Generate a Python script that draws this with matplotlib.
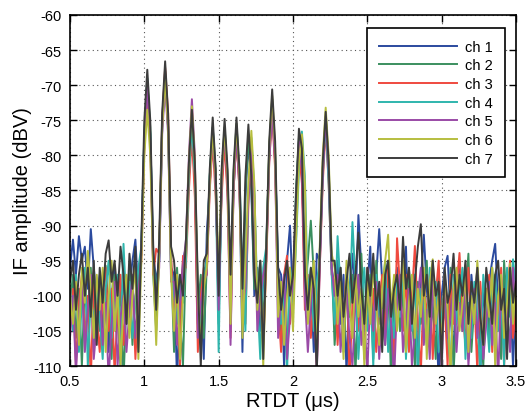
import matplotlib

matplotlib.use("Agg")
import matplotlib.pyplot as plt
import numpy as np

# sample axis: 151 samples, 0.02 us apart
rtdt_us = np.linspace(0.5, 3.5, 151)

ch1 = [
    -96, -92, -97, -91.5, -95, -93, -99, -90.5, -96, -101,
    -97, -105, -99, -108, -100, -96, -103, -110, -98, -104,
    -99, -95, -92, -100, -93, -78, -70.5, -77, -94, -98,
    -95, -76, -69, -76, -96, -97, -112, -101, -95, -93,
    -83, -76, -84, -104, -99, -109, -91.2, -84, -77, -83,
    -103, -84, -77, -85, -101, -85, -77, -84, -108, -86,
    -78, -85, -100, -96, -105, -98, -94, -80, -73, -81,
    -96, -97, -110, -95, -90, -101, -86, -78, -83, -96,
    -103, -98, -108, -94, -95, -82, -75, -83, -96, -99,
    -95, -104, -97, -111, -99, -94, -102, -88.5, -96, -105,
    -99, -93, -107, -97, -90.5, -98, -103, -95, -109, -100,
    -96, -104, -99, -93, -107, -101, -97, -110, -98, -91.3,
    -99, -105, -97, -102, -112, -100, -96, -94.3, -103, -108,
    -98, -95, -104, -100, -109, -97, -102, -96, -111, -99,
    -104, -98, -95, -92.6, -101, -107, -97, -103, -99, -110,
    -100,
]
ch2 = [
    -101, -97, -106, -99, -110, -98, -103, -96, -108, -100,
    -105, -98, -95.7, -102, -109, -97, -104, -99, -112, -101,
    -96, -107, -100, -98, -94, -77, -69.5, -76, -97, -105,
    -94, -75, -68, -75, -95, -108, -96, -103, -110, -94,
    -82, -75, -83, -102, -97, -106, -96, -83, -76, -82,
    -104, -83, -76.5, -84, -98, -84, -76, -83, -103, -85,
    -77, -84, -99, -99, -95, -104, -95, -79, -72, -80,
    -98, -106, -100, -109, -96, -102, -85, -77.5, -81, -99,
    -95, -89.3, -97, -104, -94, -82, -74.5, -82, -95, -107,
    -101, -96, -108, -99, -103, -97, -111, -100, -94, -105,
    -102, -97, -109, -95, -104, -100, -107, -98, -112, -101,
    -97, -105, -99, -108, -96, -102, -110, -98, -104, -100,
    -95, -106, -101, -109, -97, -103, -99, -107, -96, -111,
    -102, -98, -105, -100, -94, -108, -101, -97, -104, -110,
    -99, -106, -96, -103, -100, -109, -95, -102, -107, -98,
    -104,
]
ch3 = [
    -104, -99, -110, -101, -97, -106, -100, -112, -98, -103,
    -108, -100, -96, -105, -99, -111, -102, -97, -107, -100,
    -103, -98, -109, -101, -95, -79, -71, -78, -97, -93.3,
    -94, -75, -67.5, -74, -94, -104, -99, -110, -94.3, -96,
    -85, -77, -86, -108, -100, -96, -97, -85, -78, -86,
    -99, -86, -78, -86, -106, -85, -77.5, -85, -100, -104,
    -87, -79, -86, -103, -98, -107, -96, -81, -74, -82,
    -101, -108, -97, -94.3, -104, -99, -88, -79, -84, -102,
    -97, -106, -100, -110, -96, -84, -76, -84, -97, -98,
    -107, -99, -104, -96, -112, -101, -97, -105, -100, -109,
    -96, -103, -99, -108, -101, -97, -106, -95, -102, -110,
    -91.8, -99, -105, -97, -108, -100, -92.9, -104, -111, -98,
    -103, -97, -109, -100, -95, -106, -101, -110, -97, -104,
    -99, -93.9, -102, -107, -96, -104, -100, -111, -98, -105,
    -101, -97, -108, -99, -104, -96, -110, -100, -95, -106,
    -102,
]
ch4 = [
    -99, -105, -97, -108, -101, -96, -110, -100, -104, -98,
    -103, -109, -99, -95, -106, -100, -97, -107, -92.6, -102,
    -98, -106, -101, -96, -93, -77, -69, -77, -95, -99,
    -95, -76, -68.5, -76, -97, -100, -104, -97, -101, -95,
    -83, -75.5, -83, -99, -105, -97, -95, -83, -76, -84,
    -108, -83, -76, -83, -102, -83, -75.5, -83, -97, -105,
    -85, -77.5, -85, -100, -109, -96, -93, -80, -72.5, -80,
    -97, -104, -99, -111, -96, -101, -93, -82, -76.6, -83,
    -100, -96, -105, -98, -95, -83, -75, -84, -97, -104,
    -91.5, -99, -106, -97, -102, -89.5, -98, -109, -101, -96,
    -105, -99, -110, -97, -103, -100, -95, -108, -101, -106,
    -98, -103, -96, -109, -100, -105, -97, -112, -99, -102,
    -107, -96, -101, -98, -108, -103, -99, -105, -110, -97,
    -104, -100, -96, -109, -101, -106, -98, -103, -111, -97,
    -102, -108, -99, -97, -105, -100, -110, -96, -103, -94.8,
    -99,
]
ch5 = [
    -106, -100, -111, -103, -98, -108, -102, -97, -109, -104,
    -99, -107, -101, -112, -104, -98, -110, -103, -100, -108,
    -102, -97, -106, -100, -94, -78, -70, -78, -96, -101,
    -96, -77, -70, -77, -98, -98, -107, -101, -96, -92,
    -80, -72, -80, -106, -101, -98, -97, -84, -77, -84,
    -102, -84, -76.5, -84, -107, -85, -77, -85, -101, -99,
    -86, -78, -86, -105, -100, -97, -95, -81, -73.5, -81,
    -106, -100, -97, -109, -103, -98, -87, -78, -82, -100,
    -108, -101, -97, -111, -96, -83, -74.5, -82, -96, -100,
    -97, -108, -102, -99, -106, -110, -101, -97, -107, -103,
    -111, -100, -105, -98, -109, -102, -107, -99, -104, -112,
    -101, -97, -108, -103, -99, -110, -105, -100, -96, -107,
    -102, -109, -98, -104, -100, -111, -97, -106, -103, -99,
    -108, -101, -105, -97, -110, -103, -99, -106, -100, -109,
    -104, -98, -107, -101, -112, -99, -105, -102, -108, -96,
    -103,
]
ch6 = [
    -100, -104, -98, -107, -96, -101, -93.6, -99, -106, -97,
    -102, -96, -108, -100, -95, -105, -99, -110, -101, -97,
    -106, -100, -96, -109, -95, -80, -73.5, -80, -96, -107,
    -94, -76, -69, -76, -97, -105, -97, -109, -100, -93,
    -81, -73, -81, -100, -107, -99, -96, -84, -76.5, -83,
    -97, -83, -76, -83, -104, -83, -75.5, -83, -106, -95,
    -84, -76.5, -84, -102, -97, -110, -94, -79, -71.5, -79,
    -103, -98, -107, -100, -96, -105, -92, -81, -77, -84,
    -104, -99, -95, -108, -93, -80, -73.2, -80, -94, -96,
    -104, -98, -109, -95, -101, -106, -97, -103, -99, -110,
    -98, -104, -96, -101, -107, -99, -95, -91.3, -102, -97,
    -105, -100, -95, -108, -101, -97, -106, -99, -103, -96,
    -109, -98, -94.8, -104, -100, -107, -97, -102, -111, -99,
    -96, -105, -101, -97, -108, -100, -104, -95, -102, -107,
    -99, -103, -96, -110, -100, -97, -106, -101, -95.4, -104,
    -98,
]
ch7 = [
    -98, -95, -102, -97, -94, -100, -96, -103, -95, -107,
    -96, -101, -94, -92.1, -98, -95, -100, -93, -97, -104,
    -94, -99, -93, -108, -92, -75, -67.8, -75, -93, -102,
    -92, -74, -66.6, -74, -93, -95, -101, -97, -100, -92,
    -81, -73.5, -81, -98, -110, -95, -94, -82, -74.6, -82,
    -100, -82, -74.8, -82, -97, -82, -74.6, -82, -99, -83,
    -75.6, -83, -97, -101, -95, -109, -93, -78, -70.6, -78,
    -96, -102, -98, -95, -100, -97, -86, -76.2, -79, -97,
    -102, -96, -99, -111, -94, -81, -73.8, -81, -95, -95,
    -100, -96, -103, -98, -94, -101, -97, -91, -99, -104,
    -96, -100, -94, -102, -98, -108, -97, -95, -103, -99,
    -97, -102, -91.6, -99, -96, -104, -98, -93, -89.8, -100,
    -97, -103, -95, -100, -98, -110, -96, -101, -99, -94,
    -102, -97, -100, -95, -104, -98, -101, -96, -103, -107,
    -96, -100, -104, -97, -95, -102, -99, -109, -96, -101,
    -98,
]

channels = [ch1, ch2, ch3, ch4, ch5, ch6, ch7]
channel_labels = ["ch 1", "ch 2", "ch 3", "ch 4", "ch 5", "ch 6", "ch 7"]
channel_colors = ["#2b4a9e", "#3b8f5f", "#ef4a3f", "#2fb5ad", "#9a4aa6", "#b7be3f", "#3c3c3c"]

x_ticks = [0.5, 1, 1.5, 2, 2.5, 3, 3.5]
y_ticks = [-110, -105, -100, -95, -90, -85, -80, -75, -70, -65, -60]

plt.rcParams["font.family"] = ["Liberation Sans", "DejaVu Sans"]
plt.rcParams["axes.unicode_minus"] = False

fig = plt.figure(figsize=(5.29, 4.14), dpi=100)
ax = fig.add_axes([0.1323, 0.1135, 0.8431, 0.8479])

for trace, label, color in zip(channels, channel_labels, channel_colors):
    ax.plot(rtdt_us, trace, color=color, lw=1.4, label=label)

ax.set_xlim(0.5, 3.5)
ax.set_ylim(-110, -60)
ax.set_xticks(x_ticks)
ax.set_xticklabels([f"{v:g}" for v in x_ticks])
ax.set_yticks(y_ticks)
ax.grid(True, linestyle=(0, (1, 3)), color="#555555", linewidth=0.8)
ax.tick_params(direction="in", top=True, right=True, length=5, width=1, labelsize=10.5, pad=6)
for spine in ax.spines.values():
    spine.set_linewidth(1.2)

ax.set_xlabel("RTDT (\u03bcs)", fontsize=14.5, labelpad=2)
ax.set_ylabel("IF amplitude (dBV)", fontsize=14.5, labelpad=0)

leg = ax.legend(
    loc="upper right",
    bbox_to_anchor=(0.975, 0.963),
    borderaxespad=0,
    fontsize=10.5,
    frameon=True,
    fancybox=False,
    edgecolor="black",
    framealpha=1,
    handlelength=5.4,
    handletextpad=0.55,
    labelspacing=0.32,
    borderpad=0.8,
)
leg.get_frame().set_linewidth(1.2)

fig.savefig("out.png", dpi=100)
